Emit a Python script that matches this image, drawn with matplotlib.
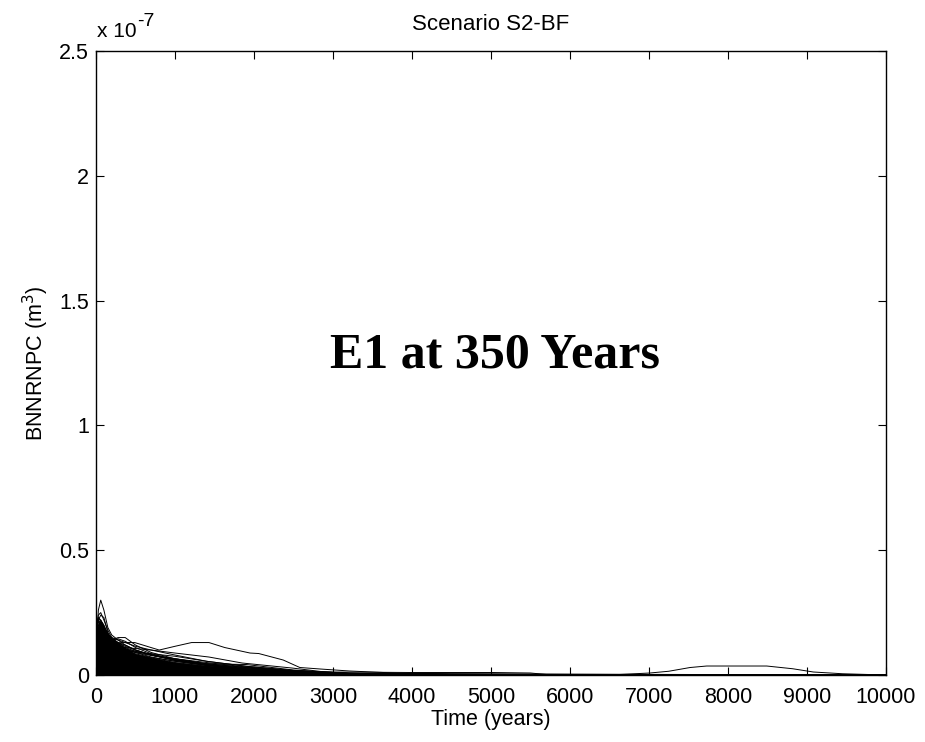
import matplotlib.pyplot as plt
import numpy as np

plt.rcParams['font.family'] = ['Liberation Sans', 'DejaVu Sans']

# time grid for the early realizations (years)
t_grid = [0, 10, 30, 60, 100, 150, 200, 280, 370, 500, 700, 1000, 1400, 1900, 2500, 3200, 4500, 6000, 10000]

# early realizations, values in units of 1e-8 m^3
early_curves = [
    [0, 1.5, 2.6, 3.0, 2.6, 1.9, 1.6, 1.4, 1.2, 1.0, 0.8, 0.6, 0.4, 0.25, 0.12, 0.05, 0.02, 0.01, 0.005],
    [0, 2.0, 2.4, 2.5, 2.2, 1.8, 1.5, 1.3, 1.15, 1.0, 0.8, 0.6, 0.4, 0.25, 0.1, 0.04, 0.02, 0.01, 0.0],
    [0, 1.8, 2.2, 2.4, 2.3, 1.7, 1.4, 1.5, 1.5, 1.2, 0.9, 0.65, 0.45, 0.3, 0.15, 0.06, 0.02, 0.01, 0.0],
    [0, 1.7, 2.3, 2.2, 2.0, 1.6, 1.4, 1.3, 1.1, 0.95, 0.8, 0.62, 0.45, 0.3, 0.15, 0.06, 0.02, 0.01, 0.0],
    [0, 1.9, 2.1, 2.2, 1.9, 1.6, 1.5, 1.4, 1.3, 1.15, 1.0, 0.8, 0.55, 0.35, 0.18, 0.07, 0.03, 0.01, 0.0],
    [0, 1.6, 2.0, 2.1, 1.8, 1.5, 1.35, 1.2, 1.05, 0.9, 0.72, 0.55, 0.38, 0.22, 0.1, 0.04, 0.015, 0.01, 0.0],
    [0, 1.4, 1.9, 2.0, 1.8, 1.55, 1.4, 1.45, 1.35, 1.1, 0.85, 0.6, 0.42, 0.28, 0.14, 0.05, 0.02, 0.01, 0.0],
    [0, 1.8, 2.0, 1.9, 1.7, 1.45, 1.25, 1.1, 0.95, 0.82, 0.68, 0.5, 0.35, 0.2, 0.09, 0.03, 0.01, 0.005, 0.0],
    [0, 1.5, 1.8, 1.9, 1.75, 1.5, 1.3, 1.15, 1.0, 0.9, 0.78, 0.65, 0.5, 0.32, 0.16, 0.06, 0.02, 0.01, 0.0],
    [0, 1.3, 1.7, 1.8, 1.6, 1.4, 1.2, 1.05, 0.9, 0.75, 0.6, 0.45, 0.3, 0.18, 0.08, 0.03, 0.01, 0.005, 0.0],
    [0, 1.7, 1.9, 1.85, 1.65, 1.4, 1.25, 1.3, 1.2, 1.0, 0.8, 0.58, 0.4, 0.25, 0.12, 0.05, 0.02, 0.01, 0.0],
    [0, 1.2, 1.6, 1.7, 1.55, 1.35, 1.2, 1.1, 1.0, 0.92, 0.85, 0.75, 0.55, 0.35, 0.18, 0.07, 0.03, 0.01, 0.0],
    [0, 1.6, 1.8, 1.75, 1.55, 1.3, 1.12, 0.98, 0.85, 0.72, 0.58, 0.44, 0.3, 0.18, 0.08, 0.03, 0.01, 0.005, 0.0],
    [0, 1.4, 1.7, 1.65, 1.5, 1.32, 1.2, 1.12, 1.05, 0.95, 0.82, 0.65, 0.45, 0.42, 0.2, 0.06, 0.02, 0.01, 0.0],
    [0, 1.9, 2.2, 2.0, 1.7, 1.4, 1.2, 1.05, 0.9, 0.75, 0.6, 0.45, 0.3, 0.17, 0.08, 0.03, 0.01, 0.005, 0.0],
    [0, 2.1, 2.3, 2.15, 1.85, 1.5, 1.3, 1.15, 1.0, 0.85, 0.7, 0.55, 0.38, 0.22, 0.1, 0.04, 0.015, 0.01, 0.0],
]

# envelope of the densely overlapping realizations (1e-8 m^3), same time grid
env_v = [0, 1.8, 2.1, 2.2, 2.0, 1.7, 1.5, 1.3, 1.1, 0.85, 0.7, 0.52, 0.38, 0.27, 0.18, 0.1, 0.07, 0.06, 0.05]

# outlier and late realizations
out1_t = [0, 100, 330, 490, 800, 1000, 1210, 1430, 1630, 1950, 2060, 2370, 2580, 2840, 3210, 4000, 10000]
out1_v = [0, 1.2, 1.3, 1.3, 1.0, 1.15, 1.3, 1.3, 1.1, 0.88, 0.86, 0.6, 0.3, 0.24, 0.16, 0.05, 0.0]

out2_t = [0, 100, 370, 700, 1000, 1430, 1850, 2480, 2900, 3500, 10000]
out2_v = [0, 1.1, 1.1, 1.0, 0.88, 0.72, 0.48, 0.28, 0.12, 0.04, 0.0]

late_t = [0, 6500, 7010, 7250, 7520, 7730, 8490, 8820, 9080, 9450, 10000]
late_v = [0, 0.0, 0.08, 0.15, 0.3, 0.36, 0.36, 0.25, 0.12, 0.05, 0.0]

tail_t = [0, 300, 1000, 2000, 3000, 4000, 5000, 5500, 5700, 10000]
tail_v = [0, 0.3, 0.2, 0.14, 0.12, 0.1, 0.1, 0.08, 0.02, 0.0]

scale = 0.1  # 1e-8 -> 1e-7 units on the axis

fig = plt.figure(figsize=(9.25, 7.42), dpi=100)
ax = fig.add_axes([96 / 925, 1 - 675 / 742, 790 / 925, 624 / 742])

ax.fill_between(t_grid, np.array(env_v) * scale, 0, color='black', lw=0)
for c in early_curves:
    ax.plot(t_grid, np.array(c) * scale, color='black', lw=0.7)
for tt, vv in [(out1_t, out1_v), (out2_t, out2_v), (late_t, late_v), (tail_t, tail_v)]:
    ax.plot(tt, np.array(vv) * scale, color='black', lw=0.7)

ax.set_xlim(0, 10000)
ax.set_ylim(0, 2.5)
ax.set_xticks(range(0, 10001, 1000))
ax.set_yticks([0, 0.5, 1, 1.5, 2, 2.5])
ax.set_yticklabels(['0', '0.5', '1', '1.5', '2', '2.5'])
ax.tick_params(direction='in', top=True, right=True, length=5.5, width=0.8,
               labelsize=15.5)
ax.tick_params(axis='x', pad=8.5)
ax.tick_params(axis='y', pad=5)
for s in ax.spines.values():
    s.set_linewidth(1.0)

ax.set_xlabel('Time (years)', fontsize=15.5, labelpad=1)
ax.set_ylabel('BNNRNPC (m$^3$)', fontsize=15.5, labelpad=6)
ax.set_title('Scenario S2-BF', fontsize=16, pad=15)

# MATLAB-style exponent label above the y axis
ax.annotate('x 10', xy=(0, 1), xycoords='axes fraction', xytext=(1, 14),
            textcoords='offset pixels', fontsize=15, ha='left', va='baseline')
ax.annotate('-7', xy=(0, 1), xycoords='axes fraction', xytext=(41, 25),
            textcoords='offset pixels', fontsize=14, ha='left', va='baseline')

ax.text(5050, 1.28, 'E1 at 350 Years', fontsize=36, fontweight='bold',
        family='Liberation Serif', ha='center', va='center')

plt.savefig('out.png', dpi=100)
